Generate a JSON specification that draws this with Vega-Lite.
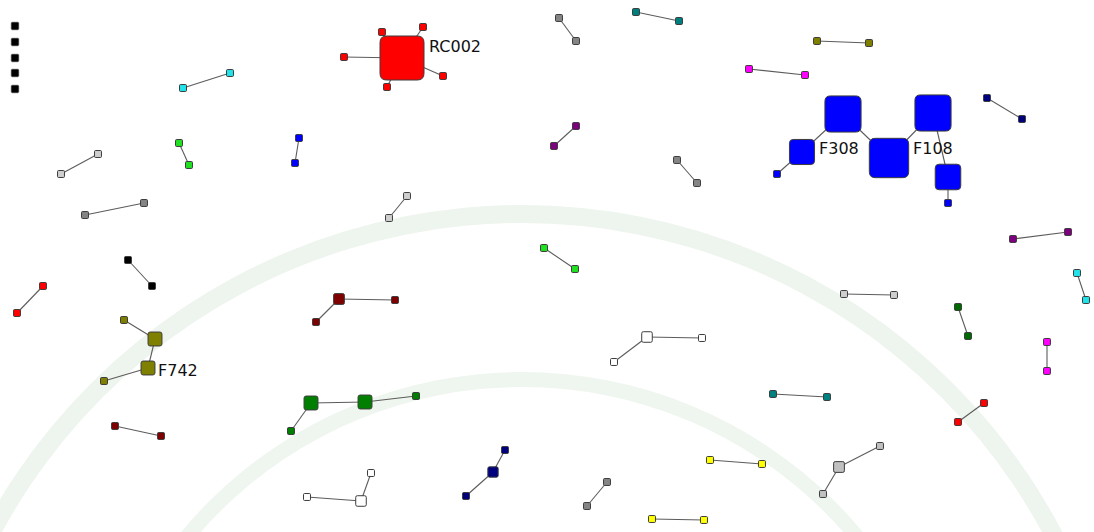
{
  "$schema": "https://vega.github.io/schema/vega-lite/v6.json",
  "width": 1094,
  "height": 532,
  "autosize": {"type": "fit", "contains": "padding"},
  "padding": 0,
  "background": "white",
  "config": {"view": {"stroke": null}},
  "datasets": {
    "rings": [{"cx": 522, "cy": 815}],
    "nodes": [
      {"id": "L1", "x": 15, "y": 26, "cl": "black", "w": 1.1},
      {"id": "L2", "x": 15, "y": 42, "cl": "black", "w": 1.1},
      {"id": "L3", "x": 15, "y": 58, "cl": "black", "w": 1.1},
      {"id": "L4", "x": 15, "y": 73, "cl": "black", "w": 1.1},
      {"id": "L5", "x": 15, "y": 89, "cl": "black", "w": 1.1},
      {"id": "cy1", "x": 183, "y": 88, "cl": "cyan", "w": 1},
      {"id": "cy2", "x": 230, "y": 73, "cl": "cyan", "w": 1},
      {"id": "lg1", "x": 61, "y": 174, "cl": "lgray", "w": 1},
      {"id": "lg2", "x": 98, "y": 154, "cl": "lgray", "w": 1},
      {"id": "li1", "x": 179, "y": 143, "cl": "lime", "w": 1},
      {"id": "li2", "x": 189, "y": 165, "cl": "lime", "w": 1},
      {"id": "bl1", "x": 299, "y": 138, "cl": "blue", "w": 1},
      {"id": "bl2", "x": 295, "y": 163, "cl": "blue", "w": 1},
      {"id": "rc", "x": 402, "y": 58, "cl": "red", "w": 40, "label": "RC002"},
      {"id": "r1", "x": 344, "y": 57, "cl": "red", "w": 1},
      {"id": "r2", "x": 382, "y": 32, "cl": "red", "w": 1},
      {"id": "r3", "x": 423, "y": 27, "cl": "red", "w": 1},
      {"id": "r4", "x": 443, "y": 76, "cl": "red", "w": 1},
      {"id": "r5", "x": 387, "y": 87, "cl": "red", "w": 1},
      {"id": "g1", "x": 559, "y": 18, "cl": "gray", "w": 1},
      {"id": "g2", "x": 576, "y": 41, "cl": "gray", "w": 1},
      {"id": "p1", "x": 576, "y": 126, "cl": "purple", "w": 1},
      {"id": "p2", "x": 554, "y": 146, "cl": "purple", "w": 1},
      {"id": "t1", "x": 636, "y": 12, "cl": "teal", "w": 1},
      {"id": "t2", "x": 679, "y": 21, "cl": "teal", "w": 1},
      {"id": "o1", "x": 817, "y": 41, "cl": "olive", "w": 1},
      {"id": "o2", "x": 869, "y": 43, "cl": "olive", "w": 1},
      {"id": "m1", "x": 749, "y": 69, "cl": "magenta", "w": 1},
      {"id": "m2", "x": 805, "y": 75, "cl": "magenta", "w": 1},
      {"id": "n1", "x": 987, "y": 98, "cl": "navy", "w": 1},
      {"id": "n2", "x": 1022, "y": 119, "cl": "navy", "w": 1},
      {"id": "g3", "x": 677, "y": 160, "cl": "gray", "w": 1},
      {"id": "g4", "x": 697, "y": 183, "cl": "gray", "w": 1},
      {"id": "bA", "x": 843, "y": 114, "cl": "blue", "w": 27},
      {"id": "bB", "x": 933, "y": 113, "cl": "blue", "w": 27},
      {"id": "bC", "x": 889, "y": 158, "cl": "blue", "w": 32, "label": "F108"},
      {"id": "bD", "x": 802, "y": 152, "cl": "blue", "w": 13, "label": "F308"},
      {"id": "bE", "x": 948, "y": 177, "cl": "blue", "w": 13.5},
      {"id": "bs1", "x": 777, "y": 174, "cl": "blue", "w": 1},
      {"id": "bs2", "x": 948, "y": 203, "cl": "blue", "w": 1},
      {"id": "g5", "x": 85, "y": 215, "cl": "gray", "w": 1},
      {"id": "g6", "x": 144, "y": 203, "cl": "gray", "w": 1},
      {"id": "k1", "x": 128, "y": 260, "cl": "black", "w": 1},
      {"id": "k2", "x": 152, "y": 286, "cl": "black", "w": 1},
      {"id": "rr1", "x": 43, "y": 286, "cl": "red", "w": 1},
      {"id": "rr2", "x": 17, "y": 313, "cl": "red", "w": 1},
      {"id": "oa", "x": 124, "y": 320, "cl": "olive", "w": 1},
      {"id": "ob", "x": 155, "y": 339, "cl": "olive", "w": 4},
      {"id": "oc", "x": 148, "y": 368, "cl": "olive", "w": 4, "label": "F742"},
      {"id": "od", "x": 104, "y": 381, "cl": "olive", "w": 1},
      {"id": "lg3", "x": 407, "y": 196, "cl": "lgray", "w": 1},
      {"id": "lg4", "x": 389, "y": 218, "cl": "lgray", "w": 1},
      {"id": "li3", "x": 544, "y": 248, "cl": "lime", "w": 1},
      {"id": "li4", "x": 575, "y": 269, "cl": "lime", "w": 1},
      {"id": "ma", "x": 339, "y": 299, "cl": "maroon", "w": 2.4},
      {"id": "mb", "x": 395, "y": 300, "cl": "maroon", "w": 1},
      {"id": "mc", "x": 316, "y": 322, "cl": "maroon", "w": 1},
      {"id": "wa", "x": 647, "y": 337, "cl": "white", "w": 2.3},
      {"id": "wb", "x": 614, "y": 362, "cl": "white", "w": 1},
      {"id": "wc", "x": 702, "y": 338, "cl": "white", "w": 1},
      {"id": "p3", "x": 1013, "y": 239, "cl": "purple", "w": 1},
      {"id": "p4", "x": 1068, "y": 232, "cl": "purple", "w": 1},
      {"id": "cy3", "x": 1077, "y": 273, "cl": "cyan", "w": 1},
      {"id": "cy4", "x": 1086, "y": 300, "cl": "cyan", "w": 1},
      {"id": "lg5", "x": 844, "y": 294, "cl": "lgray", "w": 1},
      {"id": "lg6", "x": 894, "y": 295, "cl": "lgray", "w": 1},
      {"id": "dg1", "x": 958, "y": 307, "cl": "dgreen", "w": 1},
      {"id": "dg2", "x": 968, "y": 336, "cl": "dgreen", "w": 1},
      {"id": "m3", "x": 1047, "y": 342, "cl": "magenta", "w": 1},
      {"id": "m4", "x": 1047, "y": 371, "cl": "magenta", "w": 1},
      {"id": "t3", "x": 773, "y": 394, "cl": "teal", "w": 1},
      {"id": "t4", "x": 827, "y": 397, "cl": "teal", "w": 1},
      {"id": "ma2", "x": 115, "y": 426, "cl": "maroon", "w": 1},
      {"id": "ma3", "x": 161, "y": 436, "cl": "maroon", "w": 1},
      {"id": "ga", "x": 311, "y": 403, "cl": "green", "w": 4},
      {"id": "gb", "x": 365, "y": 402, "cl": "green", "w": 4},
      {"id": "gc", "x": 416, "y": 396, "cl": "green", "w": 1},
      {"id": "gd", "x": 291, "y": 431, "cl": "green", "w": 1},
      {"id": "wd", "x": 371, "y": 473, "cl": "white", "w": 1},
      {"id": "we", "x": 307, "y": 497, "cl": "white", "w": 1},
      {"id": "wf", "x": 361, "y": 501, "cl": "white", "w": 2.3},
      {"id": "na", "x": 505, "y": 450, "cl": "navy", "w": 1},
      {"id": "nb", "x": 493, "y": 472, "cl": "navy", "w": 2.2},
      {"id": "nc", "x": 466, "y": 496, "cl": "navy", "w": 1},
      {"id": "rr3", "x": 984, "y": 403, "cl": "red", "w": 1},
      {"id": "rr4", "x": 958, "y": 422, "cl": "red", "w": 1},
      {"id": "sa", "x": 880, "y": 446, "cl": "silver", "w": 1},
      {"id": "sb", "x": 839, "y": 467, "cl": "silver", "w": 2.4},
      {"id": "sc", "x": 823, "y": 494, "cl": "silver", "w": 1},
      {"id": "y1", "x": 710, "y": 460, "cl": "yellow", "w": 1},
      {"id": "y2", "x": 762, "y": 464, "cl": "yellow", "w": 1},
      {"id": "y3", "x": 652, "y": 519, "cl": "yellow", "w": 1},
      {"id": "y4", "x": 704, "y": 520, "cl": "yellow", "w": 1},
      {"id": "g7", "x": 607, "y": 482, "cl": "gray", "w": 1},
      {"id": "g8", "x": 587, "y": 506, "cl": "gray", "w": 1}
    ],
    "edges": [
      {"s": "cy1", "t": "cy2"}, {"s": "lg1", "t": "lg2"}, {"s": "li1", "t": "li2"}, {"s": "bl1", "t": "bl2"},
      {"s": "rc", "t": "r1"}, {"s": "rc", "t": "r2"}, {"s": "rc", "t": "r3"}, {"s": "rc", "t": "r4"}, {"s": "rc", "t": "r5"},
      {"s": "g1", "t": "g2"}, {"s": "p1", "t": "p2"}, {"s": "t1", "t": "t2"}, {"s": "o1", "t": "o2"},
      {"s": "m1", "t": "m2"}, {"s": "n1", "t": "n2"}, {"s": "g3", "t": "g4"},
      {"s": "bs1", "t": "bD"}, {"s": "bD", "t": "bA"}, {"s": "bA", "t": "bC"}, {"s": "bC", "t": "bB"}, {"s": "bB", "t": "bE"}, {"s": "bE", "t": "bs2"},
      {"s": "g5", "t": "g6"}, {"s": "k1", "t": "k2"}, {"s": "rr1", "t": "rr2"},
      {"s": "oa", "t": "ob"}, {"s": "ob", "t": "oc"}, {"s": "oc", "t": "od"},
      {"s": "lg3", "t": "lg4"}, {"s": "li3", "t": "li4"},
      {"s": "ma", "t": "mb"}, {"s": "ma", "t": "mc"},
      {"s": "wa", "t": "wb"}, {"s": "wa", "t": "wc"},
      {"s": "p3", "t": "p4"}, {"s": "cy3", "t": "cy4"}, {"s": "lg5", "t": "lg6"}, {"s": "dg1", "t": "dg2"},
      {"s": "m3", "t": "m4"}, {"s": "t3", "t": "t4"}, {"s": "ma2", "t": "ma3"},
      {"s": "gd", "t": "ga"}, {"s": "ga", "t": "gb"}, {"s": "gb", "t": "gc"},
      {"s": "wd", "t": "wf"}, {"s": "we", "t": "wf"},
      {"s": "na", "t": "nb"}, {"s": "nb", "t": "nc"},
      {"s": "rr3", "t": "rr4"}, {"s": "sa", "t": "sb"}, {"s": "sb", "t": "sc"},
      {"s": "y1", "t": "y2"}, {"s": "y3", "t": "y4"}, {"s": "g7", "t": "g8"}
    ]
  },
  "layer": [
    {
      "data": {"name": "rings"},
      "mark": {"type": "arc", "radius": 610, "radius2": 592, "theta": 0, "theta2": 6.2832, "fill": "#eef4ee", "clip": true},
      "encoding": {
        "x": {"field": "cx", "type": "quantitative", "scale": {"domain": [0, 1094], "nice": false, "zero": false}, "axis": null},
        "y": {"field": "cy", "type": "quantitative", "scale": {"domain": [0, 532], "nice": false, "zero": false, "reverse": true}, "axis": null}
      }
    },
    {
      "data": {"name": "rings"},
      "mark": {"type": "arc", "radius": 443, "radius2": 428, "theta": 0, "theta2": 6.2832, "fill": "#eff5ef", "clip": true},
      "encoding": {
        "x": {"field": "cx", "type": "quantitative", "axis": null},
        "y": {"field": "cy", "type": "quantitative", "axis": null}
      }
    },
    {
      "data": {"name": "edges"},
      "transform": [
        {"lookup": "s", "from": {"data": {"name": "nodes"}, "key": "id", "fields": ["x", "y"]}, "as": ["sx", "sy"]},
        {"lookup": "t", "from": {"data": {"name": "nodes"}, "key": "id", "fields": ["x", "y"]}, "as": ["tx", "ty"]}
      ],
      "mark": {"type": "rule", "color": "#5c5c5c", "strokeWidth": 1.1},
      "encoding": {
        "x": {"field": "sx", "type": "quantitative", "axis": null},
        "y": {"field": "sy", "type": "quantitative", "axis": null},
        "x2": {"field": "tx"},
        "y2": {"field": "ty"}
      }
    },
    {
      "data": {"name": "nodes"},
      "mark": {
        "type": "point",
        "filled": true,
        "opacity": 1,
        "shape": "M-1,-0.7Q-1,-1,-0.7,-1L0.7,-1Q1,-1,1,-0.7L1,0.7Q1,1,0.7,1L-0.7,1Q-1,1,-1,0.7Z",
        "stroke": "#3c3c3c",
        "strokeWidth": 1
      },
      "encoding": {
        "x": {"field": "x", "type": "quantitative", "axis": null},
        "y": {"field": "y", "type": "quantitative", "axis": null},
        "size": {"field": "w", "type": "quantitative", "scale": {"type": "linear", "domain": [0, 40], "range": [0, 1936], "zero": true}, "legend": null},
        "color": {
          "field": "cl",
          "type": "nominal",
          "legend": null,
          "scale": {
            "domain": ["black", "red", "cyan", "lgray", "gray", "lime", "blue", "purple", "teal", "olive", "magenta", "navy", "maroon", "green", "dgreen", "white", "yellow", "silver"],
            "range": ["#000000", "#ff0000", "#22e3ea", "#cfcfcf", "#858585", "#22e022", "#0000ff", "#7f007f", "#007f7f", "#7f7f00", "#ff00ff", "#00007f", "#7f0000", "#007f00", "#006a00", "#ffffff", "#ffff00", "#c0c0c0"]
          }
        }
      }
    },
    {
      "data": {"name": "nodes"},
      "transform": [{"filter": "datum.label == 'RC002'"}],
      "mark": {"type": "text", "align": "left", "baseline": "alphabetic", "dx": 27, "dy": -6, "font": "DejaVu Sans", "fontSize": 16, "color": "#111111"},
      "encoding": {"x": {"field": "x", "type": "quantitative", "axis": null}, "y": {"field": "y", "type": "quantitative", "axis": null}, "text": {"field": "label"}}
    },
    {
      "data": {"name": "nodes"},
      "transform": [{"filter": "datum.label == 'F308'"}],
      "mark": {"type": "text", "align": "left", "baseline": "alphabetic", "dx": 17, "dy": 2, "font": "DejaVu Sans", "fontSize": 16, "color": "#111111"},
      "encoding": {"x": {"field": "x", "type": "quantitative", "axis": null}, "y": {"field": "y", "type": "quantitative", "axis": null}, "text": {"field": "label"}}
    },
    {
      "data": {"name": "nodes"},
      "transform": [{"filter": "datum.label == 'F108'"}],
      "mark": {"type": "text", "align": "left", "baseline": "alphabetic", "dx": 24, "dy": -4, "font": "DejaVu Sans", "fontSize": 16, "color": "#111111"},
      "encoding": {"x": {"field": "x", "type": "quantitative", "axis": null}, "y": {"field": "y", "type": "quantitative", "axis": null}, "text": {"field": "label"}}
    },
    {
      "data": {"name": "nodes"},
      "transform": [{"filter": "datum.label == 'F742'"}],
      "mark": {"type": "text", "align": "left", "baseline": "alphabetic", "dx": 10, "dy": 8, "font": "DejaVu Sans", "fontSize": 16, "color": "#111111"},
      "encoding": {"x": {"field": "x", "type": "quantitative", "axis": null}, "y": {"field": "y", "type": "quantitative", "axis": null}, "text": {"field": "label"}}
    }
  ]
}
